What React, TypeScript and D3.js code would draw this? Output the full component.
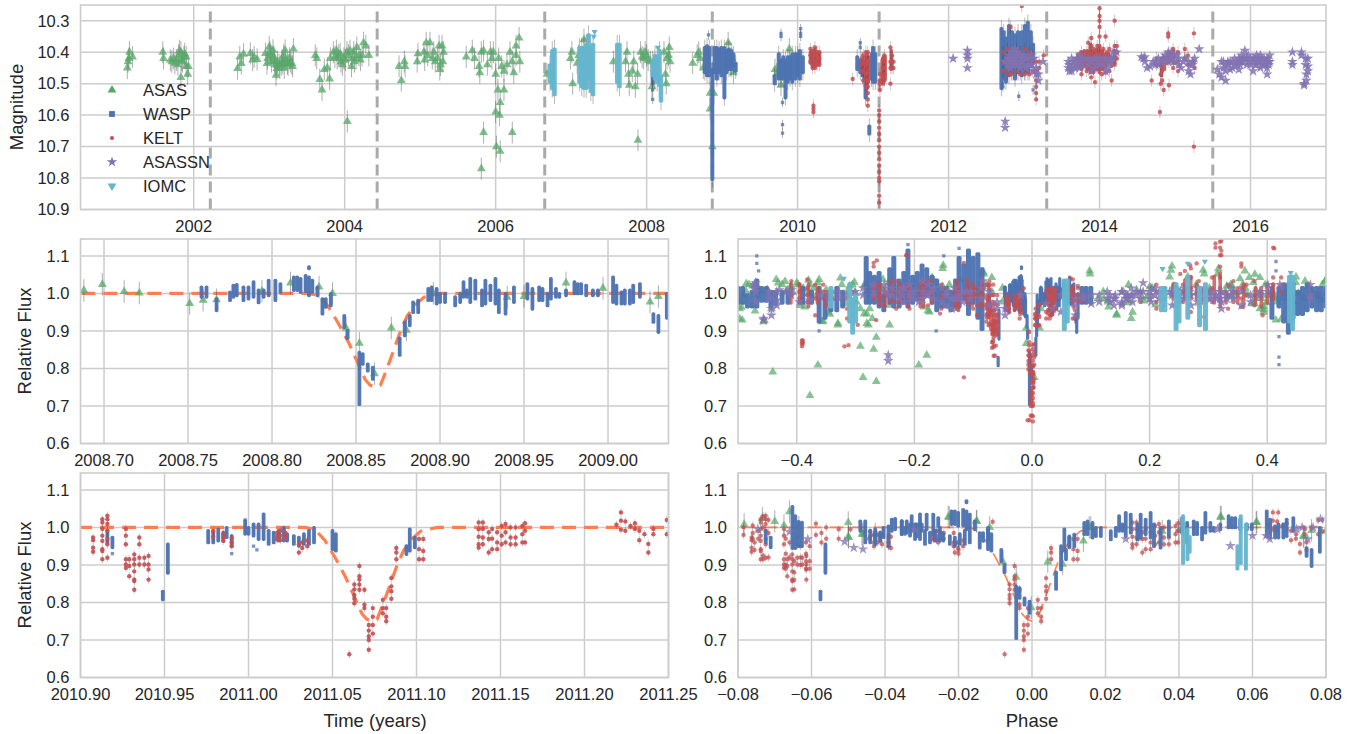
import React from "react";
import * as d3 from "d3";

// ---------- reading of the reference ----------
const eclipseEpochs = [2002.22, 2004.43, 2006.65, 2008.87, 2011.08, 2013.3, 2015.5];
const yearTicks = [2002, 2004, 2006, 2008, 2010, 2012, 2014, 2016];
const magTicks = [10.3, 10.4, 10.5, 10.6, 10.7, 10.8, 10.9];
const fluxTicks = [0.6, 0.7, 0.8, 0.9, 1.0, 1.1];
const zoomTicksA = [2008.7, 2008.75, 2008.8, 2008.85, 2008.9, 2008.95, 2009.0];
const zoomTicksB = [2010.9, 2010.95, 2011.0, 2011.05, 2011.1, 2011.15, 2011.2, 2011.25];
const phaseTicksWide = [-0.4, -0.2, 0, 0.2, 0.4];
const phaseTicksNarrow = [-0.08, -0.06, -0.04, -0.02, 0, 0.02, 0.04, 0.06, 0.08];
const legendNames = ["ASAS", "WASP", "KELT", "ASASSN", "IOMC"];

const EPOCH = 2008.8615;
const PERIOD = 2.215;
const MAG_ZERO = 10.425;

// [year, magnitude]
const asasMag = [
  [2001.12,10.45],[2001.13,10.43],[2001.14,10.42],[2001.15,10.4],[2001.19,10.415],[2001.59,10.4],[2001.6,10.42],
  [2001.69,10.425],[2001.71,10.43],[2001.73,10.42],[2001.75,10.435],[2001.77,10.425],[2001.79,10.44],[2001.8,10.41],[2001.81,10.395],[2001.83,10.4],[2001.84,10.425],[2001.85,10.43],[2001.83,10.48],[2001.87,10.415],[2001.88,10.405],[2001.9,10.415],[2001.9,10.445],[2001.92,10.47],[2001.93,10.445],
  [2002.58,10.452],[2002.61,10.415],[2002.63,10.436],[2002.66,10.406],[2002.75,10.404],[2002.78,10.425],[2002.8,10.415],[2002.84,10.423],[2002.95,10.404],[2002.97,10.436],[2003.0,10.383],[2003.02,10.41],[2003.05,10.394],[2003.07,10.43],[2003.09,10.473],[2003.1,10.452],[2003.13,10.44],[2003.17,10.425],[2003.19,10.41],[2003.21,10.394],[2003.24,10.436],[2003.27,10.42],[2003.3,10.436],[2003.32,10.39],
  [2002.98,10.42],[2003.01,10.4],[2003.03,10.43],[2003.06,10.415],[2003.08,10.44],[2003.11,10.43],[2003.14,10.45],[2003.16,10.44],[2003.18,10.435],[2003.2,10.45],[2003.22,10.425],[2003.25,10.44],[2003.28,10.43],[2003.31,10.445],
  [2003.61,10.41],[2003.63,10.42],[2003.67,10.487],[2003.7,10.52],[2003.73,10.455],[2003.77,10.45],[2003.8,10.485],[2003.81,10.42],[2003.85,10.4],[2003.89,10.395],[2003.92,10.41],[2003.95,10.43],[2003.99,10.42],[2004.03,10.4],[2004.035,10.62],[2004.07,10.395],[2004.1,10.42],[2004.13,10.43],[2004.16,10.385],[2004.19,10.41],[2004.23,10.41],[2004.25,10.37],[2004.28,10.38],[2004.32,10.41],
  [2003.87,10.415],[2003.9,10.42],[2003.94,10.405],[2003.97,10.44],[2004.01,10.425],[2004.05,10.41],[2004.09,10.445],[2004.12,10.4],[2004.15,10.42],[2004.21,10.425],
  [2004.72,10.445],[2004.75,10.49],[2004.79,10.43],[2004.8,10.445],[2004.96,10.43],[2004.97,10.405],[2005.05,10.4],[2005.06,10.425],[2005.08,10.37],[2005.13,10.37],[2005.16,10.42],[2005.18,10.4],[2005.25,10.38],[2005.26,10.455],[2005.29,10.38],[2005.3,10.43],[2005.31,10.4],[2005.1,10.41],[2005.2,10.43],[2005.23,10.42],[2005.27,10.44],
  [2005.61,10.415],[2005.69,10.395],[2005.72,10.42],[2005.78,10.445],[2005.79,10.465],[2005.81,10.4],[2005.84,10.395],[2005.89,10.44],[2005.93,10.4],[2005.95,10.42],[2005.97,10.4],[2006.0,10.47],[2006.03,10.52],[2006.11,10.52],[2006.06,10.56],[2006.0,10.59],[2006.05,10.6],[2005.84,10.655],[2006.22,10.655],[2006.01,10.7],[2006.06,10.715],[2005.81,10.77],[2006.04,10.42],[2006.08,10.445],[2006.11,10.46],[2006.15,10.44],[2006.19,10.4],[2006.22,10.43],[2006.24,10.465],[2006.27,10.38],[2006.27,10.41],[2006.31,10.355],[2006.32,10.43],
  [2006.68,10.47],[2006.99,10.42],[2007.01,10.4],[2007.02,10.5],[2007.08,10.435],[2007.1,10.41],[2007.17,10.36],
  [2007.56,10.43],[2007.74,10.4],[2007.72,10.43],[2007.76,10.47],[2007.77,10.505],[2007.81,10.46],[2007.83,10.43],[2007.85,10.51],[2007.88,10.47],[2007.885,10.68],[2007.92,10.4],[2007.96,10.42],[2008.0,10.41],[2008.05,10.43],[2008.07,10.51],[2008.23,10.4],[2008.27,10.42],[2008.3,10.385],[2008.25,10.47],[2008.26,10.5],[2008.31,10.43],
  [2007.94,10.415],[2007.98,10.4],[2008.02,10.425],[2008.29,10.41],
  [2008.61,10.435],[2008.67,10.41],[2008.71,10.42],[2008.69,10.4],[2008.75,10.45],[2008.84,10.53],[2008.84,10.58],[2008.89,10.53],[2008.87,10.7],[2009.08,10.37],[2009.13,10.42],[2009.15,10.465],[2009.11,10.44],[2009.7,10.455],[2009.72,10.47],[2009.78,10.505],[2009.89,10.39],
];

// [year, brightest magnitude, faintest magnitude] of each dense run
const waspMagRuns = [
  [2008.08,10.463,10.505],[2008.77,10.38,10.47],[2008.8,10.375,10.48],[2008.83,10.38,10.48],[2008.87,10.45,10.81],[2008.9,10.38,10.47],[2008.93,10.38,10.49],[2008.96,10.385,10.47],[2008.99,10.38,10.48],[2009.03,10.38,10.55],[2009.06,10.39,10.47],[2009.09,10.385,10.46],[2009.12,10.39,10.46],[2009.15,10.4,10.45],[2009.18,10.43,10.465],
  [2009.695,10.47,10.505],[2009.75,10.4,10.49],[2009.78,10.42,10.49],[2009.81,10.41,10.49],[2009.84,10.42,10.55],[2009.87,10.41,10.5],[2009.9,10.41,10.49],[2009.93,10.4,10.5],[2009.97,10.4,10.49],[2010.0,10.4,10.48],[2010.03,10.39,10.49],[2010.07,10.41,10.47],
  [2010.79,10.41,10.46],[2010.83,10.42,10.47],[2010.86,10.42,10.48],[2010.9,10.43,10.55],[2010.95,10.63,10.665],[2010.98,10.4,10.49],[2011.0,10.38,10.5],[2011.03,10.4,10.5],
  [2012.7,10.32,10.52],[2012.73,10.33,10.49],[2012.76,10.35,10.5],[2012.8,10.31,10.48],[2012.84,10.33,10.47],[2012.88,10.34,10.49],[2012.92,10.33,10.47],[2012.97,10.33,10.48],[2013.01,10.31,10.47],[2013.05,10.3,10.47],[2013.09,10.33,10.45],[2013.12,10.37,10.44],
];
const waspMagDots = [
  [2008.08,10.52],[2008.08,10.55],[2008.82,10.345],[2009.78,10.34],[2009.78,10.35],[2009.8,10.56],[2009.8,10.63],[2009.8,10.657],[2010.04,10.325],[2010.04,10.34],[2010.04,10.35],[2010.83,10.37],[2010.83,10.385],[2012.72,10.51],[2012.93,10.54],[2013.12,10.52],
];
const iomcMagRuns = [
  [2006.72,10.436,10.5],[2006.75,10.39,10.52],[2006.78,10.385,10.54],[2007.11,10.38,10.5],[2007.14,10.38,10.515],[2007.17,10.38,10.52],[2007.2,10.37,10.52],[2007.23,10.34,10.49],[2007.26,10.38,10.53],[2007.29,10.37,10.54],[2007.61,10.37,10.5],[2007.64,10.37,10.515],[2008.08,10.42,10.48],[2008.11,10.405,10.49],[2008.14,10.41,10.5],[2008.17,10.39,10.51],[2008.19,10.47,10.56],
];
const iomcMagDots = [[2007.31,10.335],[2007.3,10.35],[2007.23,10.35],[2008.15,10.385]];

// [year, magnitudes read at that date...]
const keltMagColumns = [
  [2010.17,10.39,10.41,10.43],[2010.2,10.4,10.42,10.44,10.45],[2010.23,10.385,10.41,10.43,10.45],[2010.26,10.4,10.44],[2010.29,10.4,10.42,10.44],[2010.21,10.57,10.58,10.59],
  [2010.73,10.485],[2010.85,10.42,10.44,10.46],[2010.87,10.41,10.43,10.46,10.49],[2010.905,10.4,10.44,10.47,10.49,10.51],[2010.93,10.4,10.43,10.46,10.49,10.51,10.53,10.55,10.57],
  [2011.08,10.585,10.6,10.62,10.64,10.66,10.68,10.7,10.72,10.74,10.76,10.78,10.8,10.81,10.856,10.878],[2011.09,10.47,10.49,10.5,10.52],[2011.13,10.42,10.45,10.48,10.5],[2011.15,10.41,10.43,10.45,10.47,10.49],[2011.23,10.385,10.43,10.45,10.5],[2011.25,10.41,10.43,10.45],[2011.27,10.43,10.45],
  [2012.72,10.4,10.43,10.46],[2012.78,10.39,10.42,10.45,10.47],[2012.83,10.41,10.44,10.47],[2012.82,10.32],[2012.9,10.39,10.42,10.46],[2012.95,10.4,10.43,10.47],[2012.97,10.253],[2013.01,10.39,10.42,10.45,10.47],[2013.07,10.4,10.44,10.47],[2013.11,10.41,10.43,10.46],[2013.16,10.43,10.46,10.49,10.51,10.53,10.55],[2013.2,10.43,10.45],[2013.26,10.41],
  [2013.7,10.42,10.45],[2013.76,10.4,10.42,10.45,10.47],[2013.83,10.4,10.43,10.46],[2013.85,10.37],[2013.89,10.355,10.38,10.41,10.44,10.48],[2013.94,10.41,10.44,10.495],[2014.0,10.26,10.285,10.3,10.32,10.35,10.38,10.41,10.44],[2014.03,10.4,10.43,10.47],[2014.08,10.35,10.41,10.44,10.465],[2014.13,10.39,10.43,10.46],[2014.16,10.49],[2014.2,10.3,10.38,10.4,10.42,10.44],[2014.23,10.38,10.4,10.42],
  [2013.79,10.41,10.44],[2013.86,10.4,10.42,10.45],[2013.92,10.39,10.42,10.46],[2013.97,10.38,10.41,10.45],[2014.05,10.39,10.42,10.45],[2014.1,10.4,10.43],
  [2014.69,10.49],[2014.755,10.42,10.44],[2014.81,10.44,10.47,10.5],[2014.8,10.59],[2014.83,10.42,10.46,10.49],[2014.85,10.52],[2014.91,10.34,10.35],[2014.92,10.4,10.43,10.505],[2014.975,10.39,10.42,10.45],[2015.04,10.4,10.43,10.46],[2015.13,10.39,10.42],[2015.17,10.41,10.44],[2015.25,10.34,10.43,10.7],[2015.26,10.45],
];
// dense KELT blobs of the long light curve
const keltMagRuns = [
  [2010.17,10.395,10.44],[2010.2,10.39,10.45],[2010.23,10.385,10.45],[2010.26,10.395,10.445],[2010.29,10.4,10.44],
  [2010.86,10.42,10.47],[2010.89,10.41,10.49],[2010.92,10.4,10.52],[2010.94,10.41,10.5],[2011.12,10.42,10.5],[2011.14,10.41,10.5],[2011.16,10.41,10.49],[2011.24,10.39,10.46],
  [2013.72,10.4,10.45],[2013.76,10.395,10.46],[2013.8,10.39,10.45],[2013.84,10.39,10.46],[2013.88,10.37,10.47],[2013.92,10.39,10.47],[2013.96,10.385,10.46],[2014.0,10.38,10.47],[2014.04,10.39,10.46],[2014.08,10.4,10.45],[2014.12,10.4,10.44],[2014.16,10.41,10.45],[2014.2,10.39,10.44],
  [2014.82,10.42,10.48],[2014.86,10.41,10.46],[2014.9,10.4,10.44],[2014.94,10.395,10.43],[2014.98,10.39,10.44],
];
const asassnMagColumns = [
  [2012.06,10.42],[2012.25,10.41,10.42,10.395,10.45],[2012.75,10.62,10.64,10.43],[2012.79,10.42,10.44],[2012.83,10.4,10.43],[2012.88,10.39,10.42,10.44],[2012.92,10.41,10.44],[2012.97,10.42,10.43],[2013.03,10.42,10.45],[2013.1,10.41,10.44],[2013.16,10.45,10.47],[2013.19,10.47,10.49],[2013.25,10.43],
  [2012.81,10.41,10.45],[2012.85,10.42,10.44],[2012.9,10.4,10.43],[2012.95,10.41,10.45],[2013.0,10.41,10.44],[2013.06,10.42,10.44],[2013.13,10.42,10.46],
  [2013.585,10.43,10.45],[2013.63,10.42,10.45,10.46],[2013.67,10.43,10.45],[2013.74,10.41,10.43,10.45],[2013.81,10.42],[2013.89,10.43,10.46],[2013.96,10.42,10.44],[2014.05,10.42,10.44],[2014.115,10.43,10.45],[2014.18,10.4,10.42],[2014.225,10.4],
  [2013.6,10.44,10.46],[2013.65,10.43,10.44],[2013.7,10.42,10.44],[2013.77,10.42,10.44],[2013.85,10.42,10.44],[2013.93,10.42,10.45],[2014.0,10.42,10.44],[2014.08,10.42,10.46],[2014.15,10.42,10.43],
  [2014.555,10.415],[2014.6,10.415,10.43],[2014.63,10.45],[2014.71,10.43],[2014.78,10.42,10.44],[2014.84,10.42],[2014.91,10.4,10.42,10.43],[2014.95,10.4,10.42],[2015.02,10.41,10.43],[2015.08,10.45],[2015.13,10.42],[2015.205,10.44,10.47],[2015.26,10.42],[2015.32,10.39],
  [2014.58,10.42],[2014.67,10.445],[2014.74,10.43,10.44],[2014.81,10.43],[2014.87,10.41,10.43],[2014.98,10.41,10.43],[2015.05,10.42,10.44],[2015.11,10.43],[2015.18,10.43,10.46],[2015.23,10.43,10.44],
  [2015.56,10.455],[2015.585,10.47],[2015.615,10.43,10.48],[2015.67,10.49],[2015.7,10.43,10.44],[2015.73,10.43,10.455],[2015.79,10.42,10.44],[2015.845,10.42,10.455],[2015.88,10.41,10.43],[2015.925,10.395,10.42],[2015.97,10.41,10.43],[2016.035,10.42,10.43,10.46],[2016.08,10.41,10.44],[2016.13,10.41,10.43,10.45],[2016.18,10.42,10.44],[2016.22,10.42,10.45,10.47],[2016.255,10.41,10.43],
  [2015.64,10.43,10.45],[2015.67,10.44,10.46],[2015.76,10.43,10.45],[2015.82,10.43,10.44],[2015.86,10.43,10.44],[2015.9,10.42,10.43],[2015.95,10.42,10.44],[2016.0,10.42,10.44],[2016.06,10.42,10.44],[2016.1,10.42,10.43],[2016.15,10.42,10.44],[2016.2,10.43,10.44],[2016.24,10.43,10.44],
  [2016.555,10.4,10.43,10.44],[2016.675,10.4,10.41],[2016.73,10.42,10.44],[2016.76,10.42,10.445,10.46],[2016.74,10.47,10.49],[2016.71,10.5,10.505],
];

// the 2008 eclipse: [year, highest flux, lowest flux]
const waspFluxRuns2008 = [
  [2008.758,1.021,.986],[2008.761,1.021,.986],[2008.767,.99,.95],[2008.775,1.008,.977],[2008.777,1.026,.986],[2008.779,1.028,.99],[2008.783,1.021,.977],[2008.786,1.021,.981],[2008.789,1.035,.986],[2008.792,1.013,.971],[2008.795,1.013,.986],[2008.798,1.039,.99],[2008.802,1.039,.977],[2008.805,1.03,.999],[2008.813,1.048,1.004],[2008.815,1.048,1.004],[2008.817,1.044,.999],[2008.82,1.052,1.001],[2008.822,1.075,1.062],[2008.822,1.048,.99],[2008.824,1.039,.999],[2008.827,1.021,.99],[2008.83,.99,.941],[2008.832,.99,.959],[2008.835,1.004,.963],[2008.843,.945,.905],[2008.845,.905,.876],[2008.852,.847,.7],[2008.854,.843,.807],[2008.857,.816,.789],[2008.86,.807,.767],[2008.876,.885,.831],[2008.879,.928,.883],[2008.882,.945,.91],[2008.884,.981,.945],[2008.887,.986,.945],[2008.893,1.017,.977],[2008.895,1.021,.977],[2008.898,1.017,.968],[2008.9,1.004,.972],[2008.903,1.004,.972],[2008.909,.995,.963],[2008.912,1.004,.972],[2008.914,1.035,.986],[2008.916,1.013,.986],[2008.918,1.044,.972],[2008.921,1.039,.981],[2008.925,1.013,.963],[2008.927,1.039,.968],[2008.93,1.026,.977],[2008.933,1.044,.968],[2008.935,1.013,.945],[2008.939,1.004,.941],[2008.944,1.021,.972],[2008.952,1.03,.981],[2008.955,1.017,.954],[2008.959,1.021,.977],[2008.961,1.017,.977],[2008.964,1.004,.963],[2008.966,1.044,.981],[2008.969,1.017,.986],[2008.971,1.004,.986],[2008.975,1.013,.99],[2008.98,1.035,.995],[2008.982,1.03,.995],[2008.984,1.03,.995],[2008.987,1.026,.99],[2008.991,1.013,.99],[2008.994,1.013,.99],[2009.003,1.048,.972],[2009.005,1.026,.968],[2009.008,1.008,.968],[2009.01,1.013,.968],[2009.013,1.013,.968],[2009.015,1.026,.972],[2009.019,1.03,.986],[2009.027,.95,.919],[2009.03,.945,.892],[2009.035,1.004,.93],
];
const asasFlux2008 = [
  [2008.688,1.008],[2008.699,1.024],[2008.712,1.005],[2008.721,1.001],[2008.751,.973],[2008.759,.982],[2008.767,.983],[2008.794,1.006],[2008.811,1.028],[2008.828,1.017],[2008.836,1.0],[2008.844,.908],[2008.852,.867],[2008.861,.786],[2008.871,.908],[2008.88,.902],[2008.896,1.0],[2008.94,.99],[2008.95,.992],[2008.975,1.028],[2008.997,1.014],[2009.025,.977],[2009.03,.992],
];

// the 2011 eclipse
const waspFluxRuns2011 = [
  [2010.916,.996,.955],[2010.919,.978,.942],[2010.949,.834,.803],[2010.952,.96,.874],[2010.976,.996,.955],[2010.979,.996,.955],[2010.982,1.0,.96],[2010.985,.991,.96],[2010.987,1.004,.969],[2010.99,.982,.946],[2010.998,1.022,.978],[2011.0,1.004,.978],[2011.003,1.013,.973],[2011.006,1.013,.964],[2011.009,1.04,.964],[2011.012,.996,.951],[2011.015,.991,.955],[2011.018,.996,.96],[2011.021,1.004,.96],[2011.023,.987,.96],[2011.027,.982,.951],[2011.03,.978,.946],[2011.033,.987,.951],[2011.036,.996,.951],[2011.039,1.004,.955],[2011.05,.996,.937],[2011.052,.987,.933],[2011.094,.955,.924],[2011.096,1.0,.933],[2011.099,.978,.942],
];
const waspFluxDots2011 = [[2010.919,.93],[2010.99,.93],[2011.003,.95],[2011.005,.94],[2010.952,.88],[2010.998,1.02]];
const keltFluxColumns2011 = [
  [2010.9075,.973,.966,.946,.935],[2010.913,1.022,1.013,.996,.978,.964,.942,.937,.915],[2010.916,1.031,1.022,1.009,.991,.969,.955,.919],[2010.927,.996,.978,.955,.915,.901,.892],[2010.929,.915,.897,.87],[2010.932,.928,.915,.901,.883,.861,.857,.834],[2010.935,.973,.955,.919,.901],[2010.938,.919,.901],[2010.9405,.924,.901,.888,.861],
  [2010.979,.99,.975],[2010.985,.982,.973,.964],[2010.99,.972,.96,.95],[2011.017,.985,.975,.968],[2011.019,.991,.978,.966],[2011.022,.985,.972],[2011.03,.955,.933],[2011.032,.96,.945],[2011.035,.965,.95],
  [2011.06,.662],[2011.063,.848,.835,.82,.81,.798],[2011.066,.897,.87,.861,.848,.834],[2011.069,.834,.794,.785],[2011.0716,.74,.725,.71,.7,.674],[2011.074,.785,.762,.74,.717],[2011.08,.807,.785,.771],[2011.082,.785,.762,.75],[2011.085,.865,.843,.83,.81],[2011.088,.945,.933,.915],[2011.1015,.969,.942,.915],[2011.104,.969,.937,.915],
  [2011.137,1.013,.995,.975,.955,.946],[2011.1395,1.013,.996,.973,.955],[2011.143,.987,.969,.933],[2011.145,.996,.97,.942],[2011.148,.987,.96,.942],[2011.1507,1.004,.978,.955],[2011.153,1.009,.987,.96],[2011.156,1.0,.973,.955],[2011.159,1.0,.973,.955],[2011.163,1.004,.982,.96],[2011.1646,1.011,.991,.96],
  [2011.219,1.007],[2011.2217,1.04,1.018,.994],[2011.2243,1.016,.991],[2011.2274,1.004],[2011.23,1.011,.996],[2011.2326,.991,.966],[2011.2357,.982],[2011.238,.956,.933],[2011.241,.996,.982],[2011.249,1.02,.982],
];

// the eclipse profile: offset from mid-eclipse in years, and flux
const modelOffset = [-0.175,-0.04,-0.034,-0.028,-0.022,-0.016,-0.011,-0.006,-0.003,0,0.003,0.007,0.011,0.015,0.019,0.024,0.029,0.039,0.175];
const modelFlux = [1,1,0.995,0.965,0.92,0.87,0.82,0.77,0.755,0.75,0.755,0.8,0.85,0.9,0.94,0.97,0.99,1,1];
const modelCentres = [2008.8615, 2011.0735];

// phase-folded panel, parts that are not in the two eclipse panels: [phase, high, low]
const waspPhaseRuns = [
  [-.5,1.02,.97],[-.492,1.02,.97],[-.484,1.0,.96],[-.476,1.01,.96],[-.468,1.04,.96],[-.46,1.02,.975],[-.452,1.02,.975],[-.444,1.01,.96],[-.436,1.01,.965],[-.425,1.01,.97],[-.415,1.01,.97],[-.39,1.02,.97],[-.375,1.01,.97],[-.362,1.02,.92],[-.352,1.0,.93],[-.342,1.0,.95],[-.332,1.02,.95],[-.322,1.01,.96],[-.282,1.1,.97],[-.276,1.06,.97],[-.268,1.05,.97],[-.26,1.06,.96],[-.252,1.0,.95],[-.242,1.07,.97],[-.235,1.1,.96],[-.226,1.04,.96],[-.218,1.06,.97],[-.211,1.12,.96],[-.203,1.05,.97],[-.195,1.06,.98],[-.187,1.08,.99],[-.179,1.07,.99],[-.17,1.05,.97],[-.162,1.04,.95],[-.154,1.02,.96],[-.146,1.02,.96],[-.138,1.01,.95],[-.13,1.04,.96],[-.124,1.1,.96],[-.116,1.08,.98],[-.108,1.12,.94],[-.1,1.1,.97],[-.092,1.11,.93],[-.085,1.07,.9],
  [.085,1.02,.97],[.092,1.02,.97],[.1,1.02,.97],[.408,1.02,.93],[.42,1.02,.96],[.428,1.03,.92],[.436,1.03,.89],[.444,1.03,.93],[.452,1.01,.94],[.46,1.02,.94],[.468,1.03,.95],[.476,1.02,.96],[.484,1.02,.95],[.492,1.02,.95],[.5,1.02,.96],
];
const waspPhaseDots = [[-.468,1.1],[-.468,1.08],[-.465,1.06],[-.362,.9],[-.163,.9],[-.211,1.13],[.415,1.085],[.415,1.06],[.42,.885],[.42,.83],[.42,.81],[-.15,1.1],[-.124,1.12]];
const iomcPhaseRuns = [
  [-.342,1.02,.96],[-.31,1.03,.92],[-.305,.99,.89],[-.3,1.0,.92],[.055,1.04,.9],[.06,1.04,.92],[.22,1.02,.95],[.226,1.02,.95],[.245,1.03,.9],[.25,1.01,.92],[.265,1.05,.93],[.285,1.02,.91],[.295,1.03,.9],[.438,1.05,.92],[.443,1.05,.9],
];
const iomcPhaseDots = [[.222,1.066],[.265,1.08],[.294,1.085],[.44,1.055],[-.32,1.04]];
const keltPhaseRuns = [
  [-.41,1.03,.97],[-.395,1.03,.97],[-.38,1.03,.96],[-.365,1.02,.97],[-.35,1.01,.96],[-.27,1.03,.98],[-.26,1.03,.97],[-.25,1.02,.96],[-.24,1.03,.98],[-.225,1.03,.97],[-.21,1.03,.98],[-.19,1.03,.96],[-.185,1.04,.96],[-.17,1.02,.97],[-.13,1.03,.96],[-.125,1.02,.95],[-.11,1.04,.97],[-.1,1.02,.98],[-.085,1.04,.96],[-.075,1.0,.94],[-.07,.97,.9],[-.065,.96,.89],[-.06,.95,.89],[-.045,.97,.95],[-.04,.99,.95],[-.03,1.0,.95],[-.02,1.01,.97],[.03,1.0,.95],[.035,.98,.94],[.24,1.03,.98],[.25,1.01,.97],[.26,1.04,.98],[.27,1.05,.99],[.28,1.03,.98],[.31,1.05,.97],[.32,1.06,.96],[.33,1.01,.97],[.35,1.02,.97],[.36,1.03,.96],[.38,1.02,.97],[.39,1.02,.96],[.4,1.03,.97],[.41,1.03,.98],
];
const keltPhaseDots = [
  [-.39,.875],[-.39,.87],[-.39,.865],[-.312,.862],[-.264,1.088],[-.214,1.102],[.312,1.133],[.312,1.122],[.322,1.14],[.322,1.114],[.322,1.102],[.412,1.12],[.356,1.08],[.28,1.08],[.26,1.06],[.269,1.075],[-.063,.834],[-.068,.87],[-.068,.855],[-.003,.83],[-.002,.81],[.002,.79],[.003,.77],[.002,.75],[0,.73],[-.001,.715],[.001,.7],[-.004,.662],[.0,.675],
];
const asasPhaseExtra = [
  [-.486,1.026],[-.494,.963],[-.497,.932],[-.471,.953],[-.455,.928],[-.435,1.037],[-.42,1.032],[-.4,1.028],[-.38,1.035],[-.362,1.037],[-.326,1.041],[-.302,1.03],[-.394,.968],[-.346,.95],[-.355,.926],[-.33,.92],[-.281,.92],[-.281,.945],[-.177,.954],[-.151,1.075],[-.083,1.057],[.098,1.06],[.122,.986],[.129,.977],[.144,.945],[.171,.95],[.234,1.044],[.238,1.073],[.265,1.044],[.291,1.062],[.317,1.066],[.362,1.06],[.379,1.051],[.394,.965],[.394,.95],[.424,.932],[.449,1.044],[.5,1.035],[.5,1.0],[-.475,1.02],[-.45,1.01],[-.41,1.02],[-.39,1.01],[-.35,1.01],[-.31,1.02],[-.3,1.0],[-.28,1.0],[.19,.98],[.21,.97],[.3,1.0],[.34,1.02],[.47,1.02],
];

// fine phase panel, parts that are not in the two eclipse panels
const waspNarrowRuns = [[-.0652,1.06,.94],[-.0644,1.035,.94],[-.0635,1.02,.945],[-.0626,1.018,.945]];
const iomcNarrowRuns = [[.0411,1.035,.9],[.0423,1.0,.91],[.0429,.98,.93],[.0559,.955,.885],[.0568,1.035,.9],[.0582,1.013,.885]];
const keltNarrowColumns = [
  [-.0785,1.0,.98],[-.076,1.005,.985,.97],[-.0755,.94,.96],[-.0745,.99,.97],[-.0732,1.03,1.0,.915,.925],[-.0717,1.02,.985,.92],[-.067,.97,.93,.9,.89],[-.066,.96,.92],[-.0647,.91,.88,.86,.835],[-.063,.95,.92,.9],[-.0615,.96,.93,.91,.89],[-.0605,.95,.91,.89],[-.0588,1.01,.98],[-.0573,.985,.96],[-.056,1.0,.97],[-.0526,.995,.97],[-.0494,.995],
  [-.0443,.97],[-.043,.98,.96,.95],[-.042,.98,.96],[-.0408,.98,.955],[-.039,.98,.96,.95],[-.0384,.975,.945],[-.0266,.99,.97],[-.0255,.99,.97,.96],[-.024,.985,.97],[-.0213,.985,.96,.95],[-.02,.96,.94,.93],[-.0107,1.015],[.029,.97,.99],[.067,1.04],[.0718,.97],[.0747,.94,.96],[.076,1.0],[.079,1.02,.99],
];
const asasNarrowExtra = [[-.07,1.016],[-.066,1.042],[-.05,1.013],[-.05,.975],[-.046,.982],[-.0225,1.027],[-.015,1.016],[.014,.964],[.016,1.0],[.0515,1.027],[.061,1.013],[.074,.975],[.08,.99]];
const asassnNarrow = [
  [-.051,.962],[-.0485,.946],[-.046,.942],[-.061,.969],[-.066,.988],[-.0746,.996],[-.032,.995],[.0255,.969],[.054,.951],[.0505,.995],[.06,.978],[.0637,.978],[.0647,.969],[.072,.995],[.0735,1.0],[.075,.969],[.0765,1.0],[.0785,1.022],
];

// ---------- helpers ----------
const fromColumns = (rows: number[][]) => rows.flatMap(([x, ...vs]) => vs.map((v) => [x, v]));
const fold = (t: number) => {
  let p = ((t - EPOCH) / PERIOD) % 1;
  if (p > 0.5) p -= 1;
  if (p < -0.5) p += 1;
  return p;
};
const toFlux = (m: number) => Math.pow(10, -0.4 * (m - MAG_ZERO));
const foldMag = (pts: number[][]) => pts.map(([t, m]) => [fold(t), toFlux(m)]);
const foldFlux = (pts: number[][]) => pts.map(([t, ...r]) => [fold(t), ...r]);

const C = { asas: "#55A868", wasp: "#4C72B0", kelt: "#C44E52", asassn: "#8172B2", iomc: "#64B5CD", model: "#FF7F50", grid: "#cccccc", text: "#262626", dash: "#aaaaaa", err: "#3a3a3a" };
const FONT = "'Liberation Sans', Arial, sans-serif";
const TICK = 16.5;
const AXIS = 18.5;

const triPath = d3.symbol(d3.symbolTriangle, 34)()!;
const starPath = d3.symbol(d3.symbolStar, 36)()!;
const squarePath = d3.symbol(d3.symbolSquare, 11)()!;
const dotPath = d3.symbol(d3.symbolCircle, 15)()!;
const downPath = d3.symbol(d3.symbolTriangle, 16)()!;

function Marks({ pts, x, y, d, color, op = 0.75, rot = false, err = 0, errOp = 0.45 }: any) {
  return (
    <g>
      {err > 0 && pts.map((p: number[], i: number) => (
        <line key={"e" + i} x1={x(p[0])} x2={x(p[0])} y1={y(p[1] - err)} y2={y(p[1] + err)} stroke={C.err} strokeOpacity={errOp} strokeWidth={0.9} />
      ))}
      {pts.map((p: number[], i: number) => (
        <path key={i} d={d} fill={color} fillOpacity={op} transform={`translate(${x(p[0])},${y(p[1])})${rot ? " rotate(180)" : ""}`} />
      ))}
    </g>
  );
}

function Runs({ rows, x, y, color, w = 3.2, pad = 0, op = 0.95 }: any) {
  return (
    <g>
      {pad > 0 && rows.map((r: number[], i: number) => (
        <line key={"w" + i} x1={x(r[0])} x2={x(r[0])} y1={y(r[1] - pad)} y2={y(r[2] + pad)} stroke={C.err} strokeOpacity={0.4} strokeWidth={0.9} />
      ))}
      {rows.map((r: number[], i: number) => {
        const top = Math.min(y(r[1]), y(r[2]));
        const h = Math.abs(y(r[2]) - y(r[1]));
        return <rect key={i} x={x(r[0]) - w / 2} y={top} width={w} height={h} rx={1.6} fill={color} fillOpacity={op} />;
      })}
    </g>
  );
}

function Frame({ id, x, y, xTicks, yTicks, xFmt, yFmt, children }: any) {
  const [x0, x1] = x.range();
  const [y0, y1] = y.range();
  const top = Math.min(y0, y1);
  const bot = Math.max(y0, y1);
  return (
    <g>
      <clipPath id={id}><rect x={x0} y={top} width={x1 - x0} height={bot - top} /></clipPath>
      {xTicks.map((t: number) => <line key={"gx" + t} x1={x(t)} x2={x(t)} y1={top} y2={bot} stroke={C.grid} strokeWidth={1.5} />)}
      {yTicks.map((t: number) => <line key={"gy" + t} x1={x0} x2={x1} y1={y(t)} y2={y(t)} stroke={C.grid} strokeWidth={1.5} />)}
      <g clipPath={`url(#${id})`}>{children}</g>
      <rect x={x0} y={top} width={x1 - x0} height={bot - top} fill="none" stroke={C.grid} strokeWidth={1.6} />
      {xTicks.map((t: number) => (
        <text key={"tx" + t} x={x(t)} y={bot + 22} textAnchor="middle" fontSize={TICK} fontFamily={FONT} fill={C.text}>{xFmt(t)}</text>
      ))}
      {yTicks.map((t: number) => (
        <text key={"ty" + t} x={x0 - 11} y={y(t) + 5.8} textAnchor="end" fontSize={TICK} fontFamily={FONT} fill={C.text}>{yFmt(t)}</text>
      ))}
    </g>
  );
}

const minus = (s: string) => s.replace("-", "\u2212");
const f1 = d3.format(".1f");
const f2 = d3.format(".2f");

function Model({ x, y, centres, base, div, width }: any) {
  return (
    <g>
      {centres.map((c: number, k: number) => {
        const path = d3.line<number>()
          .x((o) => x((c + o - base) / div))
          .y((_, i) => y(modelFlux[i]))(modelOffset);
        return <path key={k} d={path!} fill="none" stroke={C.model} strokeWidth={width} strokeDasharray="14 8" />;
      })}
    </g>
  );
}

export default function App() {
  const xTop = d3.scaleLinear().domain([2000.5, 2017]).range([80.5, 1326]);
  const yTop = d3.scaleLinear().domain([10.9, 10.25]).range([209.5, 5]);
  const xA = d3.scaleLinear().domain([2008.686, 2009.036]).range([80.5, 668.5]);
  const xB = d3.scaleLinear().domain([2010.9, 2011.25]).range([80.5, 668.5]);
  const xW = d3.scaleLinear().domain([-0.5, 0.5]).range([738, 1326]);
  const xN = d3.scaleLinear().domain([-0.08, 0.08]).range([738, 1326]);
  const yUp = d3.scaleLinear().domain([0.6, 1.145]).range([443.5, 239]);
  const yLo = d3.scaleLinear().domain([0.6, 1.145]).range([677.5, 473]);

  const kelt = fromColumns(keltMagColumns);
  const asassn = fromColumns(asassnMagColumns);
  const kelt2011 = fromColumns(keltFluxColumns2011);
  const fm = (t: number) => minus(f1(t));

  const legendRows: [string, string, string, number][] = [
    [legendNames[0], d3.symbol(d3.symbolTriangle, 34)()!, C.asas, 90],
    [legendNames[1], d3.symbol(d3.symbolSquare, 34)()!, C.wasp, 114],
    [legendNames[2], d3.symbol(d3.symbolCircle, 13)()!, C.kelt, 138],
    [legendNames[3], d3.symbol(d3.symbolStar, 34)()!, C.asassn, 162],
    [legendNames[4], d3.symbol(d3.symbolTriangle, 34)()!, C.iomc, 186],
  ];

  const label = (txt: string, x: number, y: number, rot = false) => (
    <text x={x} y={y} textAnchor="middle" fontSize={AXIS} fontFamily={FONT} fill={C.text} transform={rot ? `rotate(-90 ${x} ${y})` : undefined}>{txt}</text>
  );

  return (
    <svg width={1367} height={734} style={{ position: "absolute", left: 0, top: 0, display: "block", background: "#fff" }}>
      {/* top: full light curve */}
      <Frame id="c1" x={xTop} y={yTop} xTicks={yearTicks} yTicks={magTicks} xFmt={(t: number) => String(t)} yFmt={f1}>
        {eclipseEpochs.map((e) => (
          <line key={e} x1={xTop(e)} x2={xTop(e)} y1={209.5} y2={5} stroke={C.dash} strokeWidth={3} strokeDasharray="11 6" />
        ))}
        <Marks pts={asasMag} x={xTop} y={yTop} d={triPath} color={C.asas} err={0.035} />
        <Runs rows={waspMagRuns} x={xTop} y={yTop} color={C.wasp} w={4} pad={0.02} />
        <Marks pts={waspMagDots} x={xTop} y={yTop} d={squarePath} color={C.wasp} err={0.015} />
        <Runs rows={keltMagRuns} x={xTop} y={yTop} color={C.kelt} w={3.5} op={0.9} />
        <Marks pts={kelt} x={xTop} y={yTop} d={dotPath} color={C.kelt} err={0.02} errOp={0.3} op={0.85} />
        <Marks pts={asassn} x={xTop} y={yTop} d={starPath} color={C.asassn} op={0.85} />
        <Runs rows={iomcMagRuns} x={xTop} y={yTop} color={C.iomc} w={4.5} pad={0.025} />
        <Marks pts={iomcMagDots} x={xTop} y={yTop} d={downPath} color={C.iomc} rot op={1} />
      </Frame>
      {legendRows.map(([name, d, col, y], i) => (
        <g key={name}>
          <path d={d} fill={col} transform={`translate(112,${y})${i === 4 ? " rotate(180)" : ""}`} />
          <text x={143} y={y + 5.5} fontSize={TICK} fontFamily={FONT} fill={C.text}>{name}</text>
        </g>
      ))}

      {/* 2008 eclipse */}
      <Frame id="c2" x={xA} y={yUp} xTicks={zoomTicksA} yTicks={fluxTicks} xFmt={f2} yFmt={f1}>
        <Model x={xA} y={yUp} centres={[modelCentres[0]]} base={0} div={1} width={3.2} />
        <Marks pts={asasFlux2008} x={xA} y={yUp} d={triPath} color={C.asas} err={0.03} />
        <Runs rows={waspFluxRuns2008} x={xA} y={yUp} color={C.wasp} w={3.8} pad={0.004} />
      </Frame>

      {/* folded, whole phase */}
      <Frame id="c3" x={xW} y={yUp} xTicks={phaseTicksWide} yTicks={fluxTicks} xFmt={fm} yFmt={f1}>
        <Marks pts={foldMag(asasMag)} x={xW} y={yUp} d={triPath} color={C.asas} op={0.7} />
        <Marks pts={asasPhaseExtra} x={xW} y={yUp} d={triPath} color={C.asas} op={0.7} />
        <Runs rows={waspPhaseRuns} x={xW} y={yUp} color={C.wasp} w={5} />
        <Runs rows={foldFlux(waspFluxRuns2008)} x={xW} y={yUp} color={C.wasp} w={3.2} />
        <Runs rows={foldFlux(waspFluxRuns2011)} x={xW} y={yUp} color={C.wasp} w={3.2} />
        <Marks pts={waspPhaseDots} x={xW} y={yUp} d={squarePath} color={C.wasp} />
        <Runs rows={keltPhaseRuns} x={xW} y={yUp} color={C.kelt} w={3.6} op={0.8} />
        <Marks pts={foldMag(kelt)} x={xW} y={yUp} d={dotPath} color={C.kelt} op={0.75} />
        <Marks pts={foldFlux(kelt2011)} x={xW} y={yUp} d={dotPath} color={C.kelt} op={0.75} />
        <Marks pts={keltPhaseDots} x={xW} y={yUp} d={dotPath} color={C.kelt} op={0.75} />
        <Marks pts={foldMag(asassn)} x={xW} y={yUp} d={starPath} color={C.asassn} op={0.8} />
        <Runs rows={iomcPhaseRuns} x={xW} y={yUp} color={C.iomc} w={5} op={0.95} />
        <Marks pts={iomcPhaseDots} x={xW} y={yUp} d={downPath} color={C.iomc} rot op={1} />
      </Frame>

      {/* 2011 eclipse */}
      <Frame id="c4" x={xB} y={yLo} xTicks={zoomTicksB} yTicks={fluxTicks} xFmt={f2} yFmt={f1}>
        <Model x={xB} y={yLo} centres={[modelCentres[1]]} base={0} div={1} width={3.2} />
        <Runs rows={waspFluxRuns2011} x={xB} y={yLo} color={C.wasp} w={3.8} pad={0.004} />
        <Marks pts={waspFluxDots2011} x={xB} y={yLo} d={squarePath} color={C.wasp} />
        <Marks pts={kelt2011} x={xB} y={yLo} d={dotPath} color={C.kelt} err={0.011} errOp={0.3} op={0.9} />
      </Frame>

      {/* folded, around eclipse */}
      <Frame id="c5" x={xN} y={yLo} xTicks={phaseTicksNarrow} yTicks={fluxTicks} xFmt={(t: number) => minus(f2(t))} yFmt={f1}>
        <Model x={xN} y={yLo} centres={[EPOCH]} base={EPOCH} div={PERIOD} width={1.6} />
        <Marks pts={foldFlux(asasFlux2008)} x={xN} y={yLo} d={triPath} color={C.asas} op={0.7} err={0.03} />
        <Marks pts={asasNarrowExtra} x={xN} y={yLo} d={triPath} color={C.asas} op={0.7} err={0.03} />
        <Marks pts={foldFlux(kelt2011)} x={xN} y={yLo} d={dotPath} color={C.kelt} err={0.011} errOp={0.3} op={0.75} />
        <Marks pts={fromColumns(keltNarrowColumns)} x={xN} y={yLo} d={dotPath} color={C.kelt} err={0.011} errOp={0.3} op={0.75} />
        <Runs rows={foldFlux(waspFluxRuns2008)} x={xN} y={yLo} color={C.wasp} w={3.8} pad={0.005} />
        <Runs rows={foldFlux(waspFluxRuns2011)} x={xN} y={yLo} color={C.wasp} w={3.8} pad={0.004} />
        <Runs rows={waspNarrowRuns} x={xN} y={yLo} color={C.wasp} w={3.8} pad={0.005} />
        <Marks pts={asassnNarrow} x={xN} y={yLo} d={starPath} color={C.asassn} op={0.75} />
        <Runs rows={iomcNarrowRuns} x={xN} y={yLo} color={C.iomc} w={4} pad={0.012} />
      </Frame>

      {label("Magnitude", 23, 107, true)}
      {label("Relative Flux", 31, 341, true)}
      {label("Relative Flux", 31, 575, true)}
      {label("Time (years)", 375, 727)}
      {label("Phase", 1032, 727)}
    </svg>
  );
}
